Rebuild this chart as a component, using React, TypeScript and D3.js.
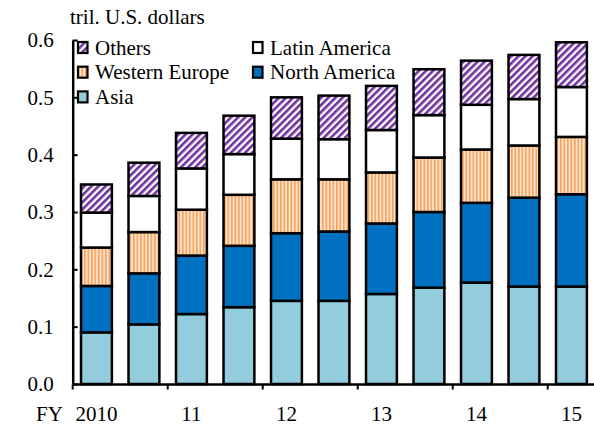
import React, { useEffect, useRef } from 'react';
import * as d3 from 'd3';

// semi-annual periods, FY2010 .. FY2015
const periods = ['2010H1', '2010H2', '2011H1', '2011H2', '2012H1', '2012H2', '2013H1', '2013H2', '2014H1', '2014H2', '2015H1'];
const tickLabels = ['2010', '', '11', '', '12', '', '13', '', '14', '', '15'];
const yTicks = [0, 0.1, 0.2, 0.3, 0.4, 0.5, 0.6];

const asia = [0.090, 0.104, 0.122, 0.134, 0.145, 0.145, 0.157, 0.168, 0.177, 0.170, 0.170];
const northAmerica = [0.081, 0.089, 0.102, 0.107, 0.118, 0.121, 0.123, 0.132, 0.139, 0.155, 0.161];
const westernEurope = [0.067, 0.072, 0.080, 0.089, 0.094, 0.091, 0.089, 0.095, 0.093, 0.091, 0.100];
const latinAmerica = [0.061, 0.063, 0.072, 0.071, 0.071, 0.070, 0.074, 0.074, 0.078, 0.081, 0.087];
const others = [0.049, 0.058, 0.062, 0.067, 0.072, 0.076, 0.077, 0.080, 0.077, 0.077, 0.078];

const seriesNames = ['Asia', 'North America', 'Western Europe', 'Latin America', 'Others'];

const App = () => {
  const ref = useRef(null);

  useEffect(() => {
    if (!ref.current) return;
    const width = 594;
    const height = 425;
    const font = '"Liberation Serif", "Times New Roman", serif';
    const fontSize = 21;

    const svg = d3.select(ref.current);
    svg.selectAll('*').remove();
    svg.attr('width', width).attr('height', height);

    const defs = svg.append('defs');
    const diag = defs.append('pattern')
      .attr('id', 'diag')
      .attr('patternUnits', 'userSpaceOnUse')
      .attr('width', 5).attr('height', 5)
      .attr('patternTransform', 'rotate(45)');
    diag.append('rect').attr('width', 5).attr('height', 5).attr('fill', '#fff');
    diag.append('rect').attr('width', 2.6).attr('height', 5).attr('fill', '#7030A0');

    const vert = defs.append('pattern')
      .attr('id', 'vert')
      .attr('patternUnits', 'userSpaceOnUse')
      .attr('width', 3.5).attr('height', 4);
    vert.append('rect').attr('width', 3.5).attr('height', 4).attr('fill', '#FDE3CC');
    vert.append('rect').attr('width', 1.6).attr('height', 4).attr('fill', '#F7A25A');

    const fills: Record<string, string> = {
      'Asia': '#93CDDD',
      'North America': '#0070C0',
      'Western Europe': 'url(#vert)',
      'Latin America': '#ffffff',
      'Others': 'url(#diag)',
    };

    const table = periods.map((p, i) => ({
      period: p,
      'Asia': asia[i],
      'North America': northAmerica[i],
      'Western Europe': westernEurope[i],
      'Latin America': latinAmerica[i],
      'Others': others[i],
    }));

    const x = d3.scaleBand()
      .domain(periods)
      .range([72.7, 595.2])
      .paddingInner(0.35)
      .paddingOuter(0.175);

    const y = d3.scaleLinear().domain([0, 0.6]).range([384, 40]);

    const stack = d3.stack().keys(seriesNames);
    const layers = stack(table as any);

    svg.append('g')
      .selectAll('g')
      .data(layers)
      .enter()
      .append('g')
      .attr('fill', d => fills[d.key])
      .selectAll('rect')
      .data(d => d)
      .enter()
      .append('rect')
      .attr('x', d => x((d as any).data.period))
      .attr('width', x.bandwidth())
      .attr('y', d => y(d[1]))
      .attr('height', d => y(d[0]) - y(d[1]))
      .attr('stroke', '#000')
      .attr('stroke-width', 2.5);

    // y axis
    const yAxis = svg.append('g')
      .attr('transform', 'translate(72.7,0)')
      .call(d3.axisLeft(y).tickValues(yTicks).tickFormat(d3.format('.1f')).tickSizeInner(-5).tickSizeOuter(0).tickPadding(19));
    yAxis.attr('font-family', null).attr('font-size', null);
    yAxis.select('.domain').attr('stroke-width', 2.5);
    yAxis.selectAll('.tick line').attr('stroke-width', 2);
    yAxis.selectAll('text')
      .style('font-family', font)
      .style('font-size', fontSize + 'px')
      .attr('fill', '#000');

    // x axis
    const step = x.step();
    const offset = (step - x.bandwidth()) / 2;
    const xAxis = svg.append('g').attr('transform', 'translate(0,384.5)');
    xAxis.append('line')
      .attr('x1', 72.7).attr('x2', width)
      .attr('stroke', '#000').attr('stroke-width', 2.5);
    xAxis.selectAll('.xt')
      .data(periods.filter((_, i) => i % 2 === 0))
      .enter()
      .append('line')
      .attr('class', 'xt')
      .attr('x1', d => (x(d) as number) - offset)
      .attr('x2', d => (x(d) as number) - offset)
      .attr('y1', 0).attr('y2', 5)
      .attr('stroke', '#000').attr('stroke-width', 2);
    xAxis.selectAll('.xl')
      .data(periods)
      .enter()
      .append('text')
      .attr('class', 'xl')
      .attr('x', d => (x(d) as number) + x.bandwidth() / 2)
      .attr('y', 36)
      .attr('text-anchor', 'middle')
      .style('font-family', font)
      .style('font-size', fontSize + 'px')
      .text((_, i) => tickLabels[i]);

    svg.append('text')
      .attr('x', 36).attr('y', 420.5)
      .style('font-family', font).style('font-size', fontSize + 'px')
      .text('FY');

    svg.append('text')
      .attr('x', 70).attr('y', 24)
      .style('font-family', font).style('font-size', fontSize + 'px')
      .text('tril. U.S. dollars');

    // legend
    const legendItems = [
      { name: 'Others', col: 0, row: 0 },
      { name: 'Latin America', col: 1, row: 0 },
      { name: 'Western Europe', col: 0, row: 1 },
      { name: 'North America', col: 1, row: 1 },
      { name: 'Asia', col: 0, row: 2 },
    ];
    const legend = svg.append('g')
      .selectAll('g')
      .data(legendItems)
      .enter()
      .append('g')
      .attr('transform', d => `translate(${d.col === 0 ? 78 : 253},${47.5 + d.row * 24.7})`);
    legend.append('rect')
      .attr('x', 0).attr('y', -5.5)
      .attr('width', 9.5).attr('height', 11)
      .attr('fill', d => fills[d.name])
      .attr('stroke', '#000').attr('stroke-width', 2.2);
    legend.append('text')
      .attr('x', 17).attr('y', 7)
      .style('font-family', font).style('font-size', fontSize + 'px')
      .text(d => d.name);
  }, []);

  return <svg ref={ref} style={{ position: 'absolute', left: 0, top: 0 }} />;
};

export default App;
